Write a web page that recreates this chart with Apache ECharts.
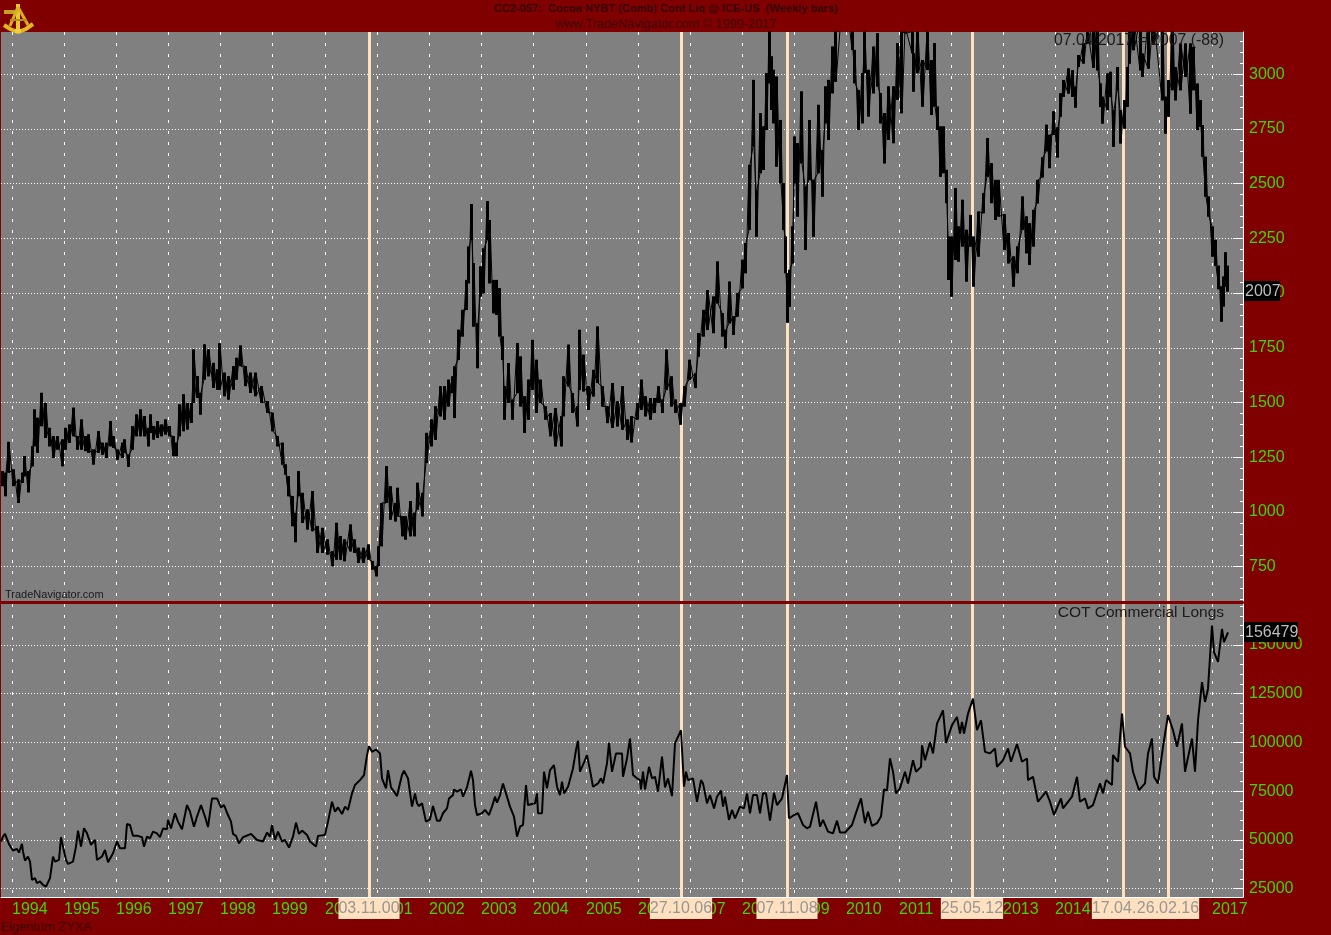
<!DOCTYPE html>
<html><head><meta charset="utf-8">
<style>html,body{margin:0;padding:0;background:#800000}#c{width:1331px;height:935px}</style>
<script src="https://cdn.jsdelivr.net/npm/echarts@6/dist/echarts.min.js"></script>
</head><body><div id="c"></div>
<script>
const yearLabels=['1994','1995','1996','1997','1998','1999','2000','2001','2002','2003','2004','2005','2006','2007','2008','2009','2010','2011','2012','2013','2014','2015','2016','2017'];
const yearBars=[12,64,116,168,220,272,325,377,429,481,533,586,638,690,742,794,846,899,951,1003,1055,1107,1159,1212];
const eventBars=[369,681,787,972,1123,1168];
const eventLabels=['03.11.00','27.10.06','07.11.08','25.05.12','17.04.15','26.02.16'];
const priceTicks=[750,1000,1250,1500,1750,2000,2250,2500,2750,3000];
const cotTicks=[25000,50000,75000,100000,125000,150000];
// weekly price range: [bar, high, low]
const priceRows=[[2,1186,1118],[5,1179,1072],[8,1320,1179],[13,1194,1118],[18,1148,1041],[22,1179,1133],[24,1255,1163],[28,1186,1090],[32,1300,1209],[34,1468,1300],[37,1430,1270],[41,1544,1392],[45,1498,1338],[49,1384,1300],[53,1346,1247],[57,1346,1285],[62,1331,1209],[65,1384,1285],[69,1399,1316],[73,1476,1346],[77,1346,1285],[81,1422,1285],[85,1346,1278],[88,1354,1270],[93,1285,1217],[98,1369,1270],[102,1316,1262],[106,1316,1247],[110,1415,1300],[113,1346,1293],[117,1285,1239],[122,1316,1247],[124,1331,1270],[128,1262,1206],[132,1392,1285],[136,1445,1346],[140,1468,1346],[144,1438,1346],[148,1384,1300],[150,1445,1361],[153,1392,1331],[157,1415,1338],[161,1399,1346],[165,1422,1354],[169,1392,1346],[173,1346,1255],[176,1316,1255],[179,1491,1346],[183,1537,1369],[187,1498,1377],[191,1498,1407],[193,1742,1498],[197,1620,1521],[200,1544,1445],[204,1765,1605],[208,1742,1620],[213,1681,1567],[217,1651,1559],[219,1770,1559],[224,1636,1529],[228,1620,1514],[233,1666,1559],[236,1704,1605],[240,1760,1666],[245,1666,1575],[250,1636,1544],[255,1636,1529],[261,1575,1499],[267,1506,1453],[272,1453,1369],[277,1346,1300],[282,1316,1217],[285,1217,1171],[288,1163,1072],[292,1072,935],[295,996,862],[298,1186,1072],[302,1087,950],[307,1011,920],[312,1095,912],[317,935,813],[322,927,813],[327,874,805],[332,820,752],[336,950,782],[340,889,782],[344,874,775],[350,942,820],[354,874,813],[358,836,767],[363,836,767],[368,851,782],[372,775,737],[376,752,706],[378,843,752],[381,1041,843],[386,1209,1041],[390,1117,965],[395,1041,957],[397,1110,980],[402,980,889],[405,980,874],[410,1049,889],[414,996,889],[417,1133,1011],[422,1087,980],[426,1361,1224],
[431,1422,1300],[435,1482,1330],[440,1574,1437],[444,1574,1422],[448,1604,1482],[452,1619,1543],[454,1665,1429],[458,1832,1695],[462,1923,1802],[466,2060,1923],[468,2212,2045],[471,2407,2242],[473,2136,1847],[477,1862,1657],[480,2121,1984],[483,2204,1999],[487,2420,2242],[489,2334,2045],[493,2060,1908],[496,2060,1900],[499,2022,1802],[502,1802,1695],[504,1574,1422],[508,1680,1498],[512,1513,1422],[517,1771,1543],[520,1710,1482],[524,1528,1361],[528,1604,1422],[532,1786,1558],[536,1695,1452],[540,1604,1498],[545,1482,1422],[550,1452,1346],[555,1475,1300],[561,1437,1300],[563,1619,1437],[568,1764,1574],[572,1543,1452],[577,1482,1391],[579,1832,1558],[583,1718,1551],[588,1574,1467],[593,1649,1528],[597,1847,1589],[602,1574,1482],[607,1482,1406],[612,1589,1384],[617,1505,1391],[622,1574,1376],[627,1422,1330],[631,1437,1318],[637,1498,1422],[641,1604,1467],[645,1528,1437],[650,1520,1422],[654,1520,1452],[658,1574,1498],[662,1513,1452],[666,1741,1558],[671,1619,1482],[675,1513,1452],[680,1498,1399],[684,1574,1482],[689,1695,1604],[695,1634,1566],[698,1817,1710],[703,1923,1802],[707,2014,1832],[713,1984,1817],[717,2144,1953],[722,1908,1802],[725,1832,1748],[729,2052,1862],[733,1893,1809],[737,1999,1893],
[742,2152,2022],[745,2228,2091],[749,2586,2289],[753,2974,2670],[756,2472,2258],[760,2822,2548],[763,2761,2563],[766,3005,2746],[769,3203,2959],[771,3081,2837],[773,3020,2776],[776,2989,2578],[780,2791,2502],[783,2502,2289],[785,2258,2091],[787,2091,1865],[789,2106,1938],[792,2304,2136],[794,2715,2502],[797,2685,2350],[801,2921,2593],[805,2487,2197],[809,2791,2517],[813,2517,2258],[818,2860,2548],[822,2654,2441],[825,2944,2776],[828,2974,2700],[832,3126,2913],[835,3195,2966],[841,3260,3200],[846,3320,3230],[852,3195,3111],[854,3111,2959],[858,2928,2746],[862,3005,2776],[864,3195,3005],[868,3020,2807],[873,3126,2913],[877,3187,2944],[880,2913,2776],[884,2822,2593],[888,2944,2700],[893,2944,2685],[897,3142,2883],[901,3195,2822],[905,3203,3187],[912,3195,3096],[913,3096,2921],[917,3195,3005],[922,3065,2852],[927,3195,3020],[931,3065,2814],[934,3142,2852],[937,2852,2746],[940,2761,2532],[943,2761,2548],[946,2563,2411],[948,2258,2060],[951,2258,1984],[955,2479,2152],[958,2304,2144],[962,2426,2213],[966,2289,2053],[970,2357,2213],[973,2258,2030],[978,2372,2167],[983,2456,2365],[987,2708,2532],[991,2593,2411],[995,2517,2334],[998,2517,2350],
[1004,2360,2197],[1008,2274,2136],[1013,2167,2030],[1017,2213,2091],[1022,2441,2289],[1026,2350,2182],[1029,2319,2129],[1033,2380,2213],[1037,2517,2410],[1042,2620,2529],[1046,2769,2648],[1049,2723,2571],[1053,2830,2723],[1057,2757,2620],[1060,2912,2806],[1063,2973,2897],[1068,3026,2912],[1072,3018,2897],[1075,2943,2848],[1078,3087,3033],[1083,3140,3049],[1087,3193,3140],[1093,3250,3030],[1097,3250,3018],[1100,2957,2850],[1102,2897,2775],[1107,3003,2836],[1110,3011,2897],[1113,2836,2669],[1117,3033,2927],[1120,2836,2684],[1124,2881,2752],[1127,3033,2851],[1129,3250,3049],[1133,3250,3110],[1140,3250,3018],[1142,3094,2988],[1148,3250,3026],[1153,3250,3140],[1162,3250,2881],[1165,2897,2729],[1168,2973,2806],[1172,3250,2927],[1175,3033,2881],[1180,3140,2927],[1185,3140,2988],[1190,3140,2820],[1193,3125,2927],[1197,2957,2745],[1200,2881,2760],[1202,2768,2623],[1205,2623,2441],[1208,2441,2350],[1212,2304,2167],[1215,2243,2125],[1218,2125,2018],[1221,2030,1870],[1223,2075,1939],[1225,2186,2030],[1227,2125,2007]];
// COT commercial longs: [bar, contracts]
const cotRows=[[1,49200],[3,51700],[5,53100],[7,50400],[9,47800],[13,44600],[17,45400],[19,43500],[22,48000],[23,44000],[25,39400],[28,41500],[30,38900],[32,29500],[35,30400],[37,27800],[40,28700],[43,27000],[46,26100],[50,30400],[53,41500],[55,38900],[59,39800],[61,51400],[63,46600],[66,39800],[68,37700],[73,38900],[76,46600],[78,54800],[81,46600],[84,56000],[87,53400],[91,47500],[95,50000],[97,39800],[102,41500],[105,44900],[108,38600],[113,43200],[117,49200],[120,45700],[125,45700],[127,58200],[130,57700],[133,52100],[138,52100],[142,51400],[144,46600],[147,51700],[150,50800],[153,54300],[157,53400],[160,51400],[163,55900],[167,55500],[168,60300],[171,55900],[175,63700],[178,59400],[182,55500],[187,67900],[190,64500],[194,56800],[197,62000],[201,67900],[205,62000],[208,56600],[212,71300],[217,71300],[221,66700],[224,67900],[228,62800],[231,59400],[233,53100],[236,52100],[239,48300],[243,51400],[251,53100],[257,50000],[263,49200],[267,53800],[270,51700],[272,57700],[275,50000],[278,54300],[282,49200],[285,50000],[289,46100],[293,51700],[296,58900],[299,53100],[302,54800],[307,52600],[310,49200],[316,46600],[318,52100],[325,52600],[328,59400],[332,69600],[335,64500],[338,66700],[342,63300],[345,67100],[348,65400],[352,73900],[355,78200],[360,80700],[364,83300],[367,93500],[369,98100],[372,95200],[376,96400],[380,94400],[382,81600],[386,76500],[388,85800],[391,77000],[393,75600],[397,72500],[399,73000],[402,83300],[404,85500],[408,81600],[412,67100],[415,73900],[417,68800],[419,67400],[422,68800],[426,59400],[430,60600],[433,67400],[437,59900],
[440,59900],[443,63700],[447,66200],[449,71300],[453,73000],[454,75900],[457,74800],[461,75900],[463,72200],[467,77000],[471,85500],[473,80700],[475,67900],[477,62800],[482,63700],[485,65400],[489,62800],[492,67100],[495,72200],[497,69100],[500,73000],[503,79000],[507,72200],[510,67100],[514,62000],[517,51700],[520,56800],[523,57700],[526,78200],[528,67900],[535,68800],[537,73900],[538,63700],[542,63700],[544,85000],[547,76500],[550,85800],[554,88400],[557,77300],[560,73000],[562,79900],[564,73900],[568,77300],[573,86700],[576,96100],[578,100900],[580,85000],[585,90900],[587,93500],[590,85800],[593,77300],[598,79000],[601,81600],[603,79000],[607,89300],[609,99800],[612,85000],[616,94400],[622,94400],[623,82400],[627,91800],[630,102000],[633,83300],[637,81600],[640,80700],[641,75900],[643,85000],[645,75900],[649,87500],[652,81600],[655,82400],[658,74800],[662,92700],[665,77000],[668,81600],[672,72500],[675,99500],[681,106300],[684,77300],[686,85000],[688,80700],[693,81600],[697,69600],[701,80700],[703,79000],[707,68800],[710,73000],[714,66200],[717,72200],[721,75300],[723,67100],[725,72200],[729,60300],[732,65400],[735,61100],[740,67100],[744,66200],[747,73900],[750,63700],[753,73000],[757,73000],[760,63700],[763,73900],[766,73900],[770,59900],[774,74200],[777,67900],[782,71300],[787,83300],[789,61100],[794,62800],[798,63700],[803,57700],[807,56000],[810,56800],[816,69600],[820,56800],[823,60300],[828,54300],[833,53400],[837,59900],[840,53800],[845,53800],[852,57700],[857,65400],[861,71300],[865,58600],[868,64500],[872,57200],[877,58600],[881,62000],[884,75900],[887,75400],
[890,91800],[893,85000],[896,73900],[900,76500],[905,85000],[908,79000],[913,90900],[916,85000],[921,87500],[922,98600],[925,90900],[930,100300],[933,94400],[937,109700],[943,116500],[946,99800],[952,108900],[957,113100],[960,104600],[962,110600],[964,104600],[968,114800],[973,122500],[977,106300],[981,111400],[985,95200],[990,94400],[995,96900],[997,87500],[1003,90900],[1008,96900],[1011,90100],[1017,99200],[1022,90100],[1027,91800],[1028,80700],[1033,82400],[1038,69600],[1046,74800],[1050,69600],[1054,62800],[1061,71300],[1063,66200],[1072,72200],[1077,82400],[1080,69600],[1085,71300],[1088,66200],[1093,67900],[1100,79000],[1103,73900],[1106,80700],[1112,78200],[1113,93500],[1118,90100],[1122,114800],[1125,97800],[1130,94400],[1133,85000],[1139,75600],[1145,79000],[1148,94400],[1152,102000],[1154,82400],[1158,79000],[1163,97800],[1168,114000],[1173,106300],[1177,97800],[1182,109700],[1185,85000],[1192,102000],[1195,85000],[1198,111400],[1202,131000],[1205,120800],[1208,127600],[1212,160000],[1214,146400],[1218,141300],[1222,158300],[1224,151500],[1228,156479]];

const GREEN='#40D400',WHITE='#FFFFFF',PEACH='#FFE0BF';
const FONT='"Liberation Sans",Arial,sans-serif';
const zig=[];priceRows.forEach(r=>{zig.push([r[0],r[1]]);zig.push([r[0]+1,r[2]]);});
const zag=[];priceRows.forEach(r=>{zag.push([r[0],r[2]]);zag.push([r[0]+1,r[1]]);});
function minors(lo,hi,step,skip){const a=[];for(let v=lo;v<=hi;v+=step){if(v%skip)a.push(v);}return a;}
function xAx(idx,showLabel){return {type:'value',gridIndex:idx,min:1,max:1243,position:'bottom',
  axisLine:{show:showLabel,onZero:false,lineStyle:{color:WHITE,width:1}},
  axisTick:{show:false,customValues:yearBars},
  splitLine:{show:true,lineStyle:{color:WHITE,width:1,type:[3,8],opacity:1}},
  axisLabel:{show:showLabel,customValues:yearBars,align:'left',margin:5,color:GREEN,fontFamily:FONT,fontSize:16,
    formatter:v=>yearLabels[yearBars.indexOf(v)]}};}
function yMain(idx,min,max,ticks,pad){return {type:'value',gridIndex:idx,min,max,position:'right',
  axisLine:{show:true,onZero:false,lineStyle:{color:WHITE,width:1}},
  axisTick:{show:true,inside:true,length:10,customValues:ticks,lineStyle:{color:WHITE}},
  splitLine:{show:true,lineStyle:{color:WHITE,width:1,type:[1,2]}},
  axisLabel:{show:true,customValues:ticks,margin:6,padding:[pad,0,0,0],color:GREEN,fontFamily:FONT,fontSize:16,align:'left',formatter:v=>String(v)}};}
function yMinor(idx,min,max,ticks){return {type:'value',gridIndex:idx,min,max,position:'right',
  axisLine:{show:false},splitLine:{show:false},axisLabel:{show:false},
  axisTick:{show:true,inside:true,length:3,customValues:ticks,lineStyle:{color:WHITE}}};}
function eventSeries(x,y,labels){return {type:'line',xAxisIndex:x,yAxisIndex:y,data:[],z:1,silent:true,
  markLine:{z:1,silent:true,symbol:'none',animation:false,
    lineStyle:{color:PEACH,width:3,type:'solid',opacity:1},
    label:{show:labels,position:'start',distance:1,color:'#969696',fontFamily:FONT,fontSize:16,backgroundColor:PEACH,padding:[3,0,2,0],
      formatter:p=>eventLabels[eventBars.indexOf(p.value)]},
    data:eventBars.map(b=>({xAxis:b}))}};}
function txt(text,x,y,opt){return {type:'text',z:20,silent:true,style:Object.assign({text,x,y,fill:'#1a1a1a',font:'15.8px '+FONT,textVerticalAlign:'middle'},opt||{})};}
function seg(pts,w,c){return {type:'polyline',z:21,silent:true,shape:{points:pts},style:{stroke:c,lineWidth:w,fill:null}};}

const chart=echarts.init(document.getElementById('c'),null,{renderer:'canvas'});
chart.setOption({animation:false,backgroundColor:'#800000',
 grid:[{left:1,top:32,width:1242,height:569,show:true,backgroundColor:'#808080',borderWidth:0},
       {left:1,top:604,width:1242,height:293,show:true,backgroundColor:'#808080',borderWidth:0}],
 xAxis:[xAx(0,false),xAx(1,true)],
 yAxis:[yMain(0,593,3193,priceTicks,4),yMinor(0,593,3193,minors(600,3150,50,250)),
        yMain(1,20743,171030,cotTicks,5),yMinor(1,20743,171030,minors(25000,170000,5000,25000))],
 series:[eventSeries(0,0,false),eventSeries(1,2,true),
  {type:'line',name:'Cocoa',xAxisIndex:0,yAxisIndex:0,data:zig,z:3,showSymbol:false,symbol:'none',silent:true,lineStyle:{color:'#000',width:1}},
  {type:'line',name:'Cocoa2',xAxisIndex:0,yAxisIndex:0,data:zag,z:3,showSymbol:false,symbol:'none',silent:true,lineStyle:{color:'#000',width:1}},
  {type:'custom',name:'Cocoa range',xAxisIndex:0,yAxisIndex:0,data:priceRows,z:3,silent:true,clip:true,encode:{x:0,y:[1,2]},
    renderItem:(p,api)=>{const hi=api.coord([api.value(0),api.value(1)]),lo=api.coord([api.value(0),api.value(2)]);
      const r=echarts.graphic.clipRectByRect({x:hi[0]-1,y:hi[1],width:3,height:lo[1]-hi[1]},{x:p.coordSys.x,y:p.coordSys.y,width:p.coordSys.width,height:p.coordSys.height});
      return r&&{type:'rect',shape:r,style:{fill:'#000'}};}},
  {type:'line',name:'COT Commercial Longs',xAxisIndex:1,yAxisIndex:2,data:cotRows,z:3,showSymbol:false,symbol:'none',silent:true,lineStyle:{color:'#000',width:2}}],
 graphic:[
  txt('CC2-057:  Cocoa NYBT (Comb) Cont Liq @ ICE-US  (Weekly bars)',666,9,{textAlign:'center',font:'bold 11.1px '+FONT,fill:'#300000'}),
  txt('www.TradeNavigator.com © 1999-2017',666,24,{textAlign:'center',font:'12.7px '+FONT,fill:'#3a0000'}),
  txt('07.04.2017 = 2007 (-88)',1224,41,{textAlign:'right'}),
  txt('COT Commercial Longs',1224,613,{textAlign:'right',font:'15.5px '+FONT}),
  txt('TradeNavigator.com',5,595,{font:'11px '+FONT}),
  txt('Eigentum ZYXA',1,927,{font:'12.8px '+FONT,fill:'#3a0000'}),
  {type:'rect',z:19,silent:true,shape:{x:1244,y:281,width:36,height:20},style:{fill:'#000'}},
  txt('2007',1245,292,{font:'16px '+FONT,fill:'#BEBEBE'}),
  {type:'rect',z:19,silent:true,shape:{x:1244,y:622,width:54,height:20},style:{fill:'#000'}},
  txt('156479',1245,633,{font:'16px '+FONT,fill:'#BEBEBE'}),
  seg([[4,25],[10,29],[18,32],[26,29],[33,24]],4,'#E0B820'),
  seg([[18,4],[18,30]],4,'#E8C830'),
  seg([[4,12],[16,12]],4,'#C8A020'),
  seg([[18,7],[10,26]],3,'#D8B020'),
  seg([[18,7],[28,25]],3,'#D8B020'),
  seg([[10,20],[27,20]],2,'#B89010'),
  seg([[15,31],[21,31]],4,'#F0D040')
 ]});
</script></body></html>
